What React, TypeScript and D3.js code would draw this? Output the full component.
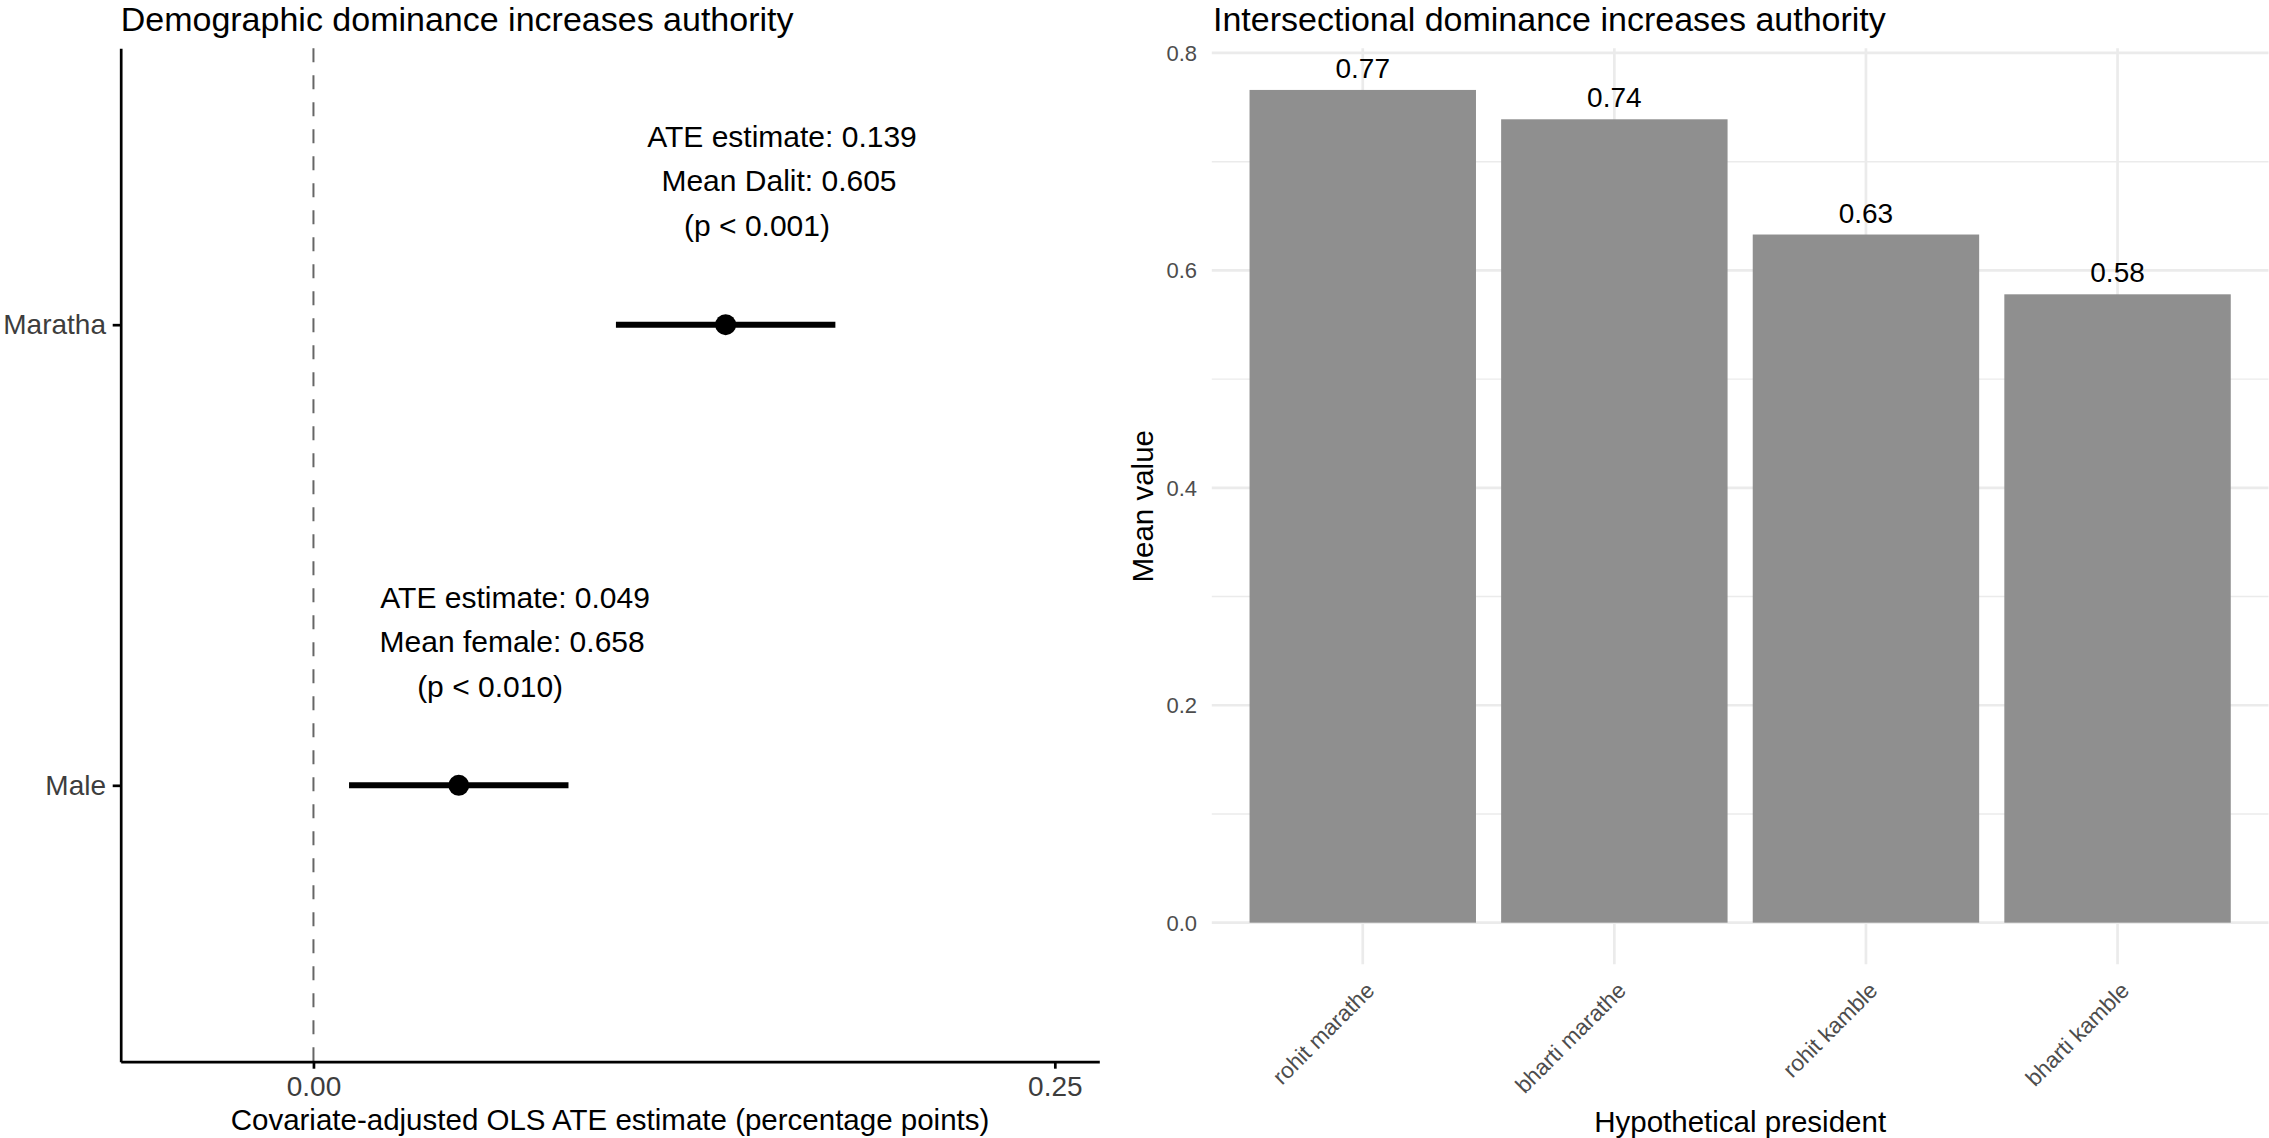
import { useEffect, useRef } from 'react'
import * as d3 from 'd3'

// Left panel: covariate-adjusted ATE estimates
const effectTerms = ['Maratha', 'Male']
const ateEstimates = [0.139, 0.049]
const ciLower = [0.102, 0.012]
const ciUpper = [0.176, 0.086]
const annotationLines = [
  ['ATE estimate: 0.139', 'Mean Dalit: 0.605', '(p < 0.001)'],
  ['ATE estimate: 0.049', 'Mean female: 0.658', '(p < 0.010)'],
]
const ateLimits = [-0.05, 0.25]
const ateTicks = [0, 0.25]

// Right panel: mean value by hypothetical president
const presidents = ['rohit marathe', 'bharti marathe', 'rohit kamble', 'bharti kamble']
const meanValues = [0.766, 0.739, 0.633, 0.578]
const meanTicks = [0, 0.2, 0.4, 0.6, 0.8]
const meanMinorTicks = [0.1, 0.3, 0.5, 0.7]

const W = 2269
const H = 1138
const FONT = '"Liberation Sans", Arial, Helvetica, sans-serif'

const App = () => {
  const svgRef = useRef<SVGSVGElement>(null)

  useEffect(() => {
    if (!svgRef.current) return
    const svg = d3.select(svgRef.current)
    svg.selectAll('*').remove()

    svg.append('rect').attr('width', W).attr('height', H).attr('fill', '#fff')

    // ---------- left panel ----------
    const L = { left: 120.7, right: 1099.3, top: 48.3, bottom: 1061.7 }
    const span = ateLimits[1] - ateLimits[0]
    const x = d3
      .scaleLinear()
      .domain([ateLimits[0] - span * 0.05, ateLimits[1] + span * 0.05])
      .range([L.left, L.right])
    const y = d3.scalePoint().domain(effectTerms).range([L.top, L.bottom]).padding(0.6)

    const left = svg.append('g').style('font-family', FONT)

    left
      .append('text')
      .attr('x', L.left)
      .attr('y', 30.5)
      .style('font-size', '34px')
      .style('fill', '#000')
      .text('Demographic dominance increases authority')

    // zero reference
    left
      .append('line')
      .attr('x1', x(0))
      .attr('x2', x(0))
      .attr('y1', L.top)
      .attr('y2', L.bottom)
      .attr('stroke', '#666')
      .attr('stroke-width', 2)
      .attr('stroke-dasharray', '14,13')

    // error bars + points
    effectTerms.forEach((term, i) => {
      const cy = y(term)!
      left
        .append('line')
        .attr('x1', x(ciLower[i]))
        .attr('x2', x(ciUpper[i]))
        .attr('y1', cy)
        .attr('y2', cy)
        .attr('stroke', '#000')
        .attr('stroke-width', 6)
      left.append('circle').attr('cx', x(ateEstimates[i])).attr('cy', cy).attr('r', 10.5).attr('fill', '#000')

      // annotation block above the estimate
      const ax = x(ateEstimates[i] + 0.019)
      const ay = cy - y.step() * 0.3
      const dxs = [0, -3, -25]
      annotationLines[i].forEach((line, j) => {
        left
          .append('text')
          .attr('x', ax + dxs[j])
          .attr('y', ay + (j - 1) * 44.5 + 5)
          .attr('text-anchor', 'middle')
          .style('font-size', '30px')
          .style('fill', '#000')
          .text(line)
      })
    })

    // axes
    const yAxis = left
      .append('g')
      .attr('transform', `translate(${L.left},0)`)
      .call(d3.axisLeft(y).tickSize(8).tickSizeOuter(0).tickPadding(6.7))
    yAxis.select('.domain').attr('stroke', '#000').attr('stroke-width', 2.7)
    yAxis.selectAll('.tick line').attr('stroke', '#000').attr('stroke-width', 2.7)
    yAxis
      .selectAll('.tick text')
      .style('font-size', '28px')
      .style('font-family', FONT)
      .style('fill', '#3d3d3d')

    const xAxis = left
      .append('g')
      .attr('transform', `translate(0,${L.bottom})`)
      .call(
        d3
          .axisBottom(x)
          .tickValues(ateTicks)
          .tickFormat((d) => d3.format('.2f')(d as number))
          .tickSize(7)
          .tickSizeOuter(0)
          .tickPadding(7.4)
      )
    xAxis.select('.domain').attr('stroke', '#000').attr('stroke-width', 2.7)
    xAxis.selectAll('.tick line').attr('stroke', '#000').attr('stroke-width', 2.7)
    xAxis
      .selectAll('.tick text')
      .style('font-size', '28px')
      .style('font-family', FONT)
      .style('fill', '#3d3d3d')

    left
      .append('text')
      .attr('x', (L.left + L.right) / 2)
      .attr('y', 1130)
      .attr('text-anchor', 'middle')
      .style('font-size', '29.5px')
      .style('fill', '#000')
      .text('Covariate-adjusted OLS ATE estimate (percentage points)')

    // ---------- right panel ----------
    const R = { left: 1211.8, right: 2268.5, top: 48.3, bottom: 964.3 }
    const maxVal = d3.max(meanValues)!
    const yr = d3
      .scaleLinear()
      .domain([-maxVal * 0.05, maxVal * 1.05])
      .range([R.bottom, R.top])
    const xr = d3
      .scaleBand()
      .domain(presidents)
      .range([R.left, R.right])
      .paddingInner(0.1)
      .paddingOuter(0.15)

    const right = svg.append('g').style('font-family', FONT)

    right
      .append('text')
      .attr('x', 1213)
      .attr('y', 30.5)
      .style('font-size', '34px')
      .style('fill', '#000')
      .text('Intersectional dominance increases authority')

    // grid
    right
      .selectAll('.minor')
      .data(meanMinorTicks)
      .enter()
      .append('line')
      .attr('x1', R.left)
      .attr('x2', R.right)
      .attr('y1', (d) => yr(d))
      .attr('y2', (d) => yr(d))
      .attr('stroke', '#ebebeb')
      .attr('stroke-width', 1.4)
    right
      .selectAll('.major')
      .data(meanTicks)
      .enter()
      .append('line')
      .attr('x1', R.left)
      .attr('x2', R.right)
      .attr('y1', (d) => yr(d))
      .attr('y2', (d) => yr(d))
      .attr('stroke', '#ebebeb')
      .attr('stroke-width', 2.7)
    right
      .selectAll('.vgrid')
      .data(presidents)
      .enter()
      .append('line')
      .attr('x1', (d) => xr(d)! + xr.bandwidth() / 2)
      .attr('x2', (d) => xr(d)! + xr.bandwidth() / 2)
      .attr('y1', R.top)
      .attr('y2', R.bottom)
      .attr('stroke', '#ebebeb')
      .attr('stroke-width', 2.7)

    // bars
    right
      .selectAll('.bar')
      .data(meanValues)
      .enter()
      .append('rect')
      .attr('x', (_, i) => xr(presidents[i])!)
      .attr('width', xr.bandwidth())
      .attr('y', (d) => yr(d))
      .attr('height', (d) => yr(0) - yr(d))
      .attr('fill', '#8f8f8f')

    right
      .selectAll('.bar-label')
      .data(meanValues)
      .enter()
      .append('text')
      .attr('x', (_, i) => xr(presidents[i])! + xr.bandwidth() / 2)
      .attr('y', (d) => yr(d) - 12)
      .attr('text-anchor', 'middle')
      .style('font-size', '28px')
      .style('fill', '#000')
      .text((d) => d3.format('.2f')(d))

    // y tick labels
    right
      .selectAll('.ytick')
      .data(meanTicks)
      .enter()
      .append('text')
      .attr('x', 1197)
      .attr('y', (d) => yr(d))
      .attr('dy', '0.36em')
      .attr('text-anchor', 'end')
      .style('font-size', '22px')
      .style('fill', '#4d4d4d')
      .text((d) => d3.format('.1f')(d))

    // x tick labels, rotated
    right
      .selectAll('.xtick')
      .data(presidents)
      .enter()
      .append('text')
      .attr(
        'transform',
        (d) => `translate(${xr(d)! + xr.bandwidth() / 2 + 13},${992}) rotate(-45)`
      )
      .attr('text-anchor', 'end')
      .style('font-size', '22.5px')
      .style('fill', '#4d4d4d')
      .text((d) => d)

    right
      .append('text')
      .attr('x', (R.left + R.right) / 2)
      .attr('y', 1131.5)
      .attr('text-anchor', 'middle')
      .style('font-size', '29.5px')
      .style('fill', '#000')
      .text('Hypothetical president')

    right
      .append('text')
      .attr('transform', `translate(1153,${(R.top + R.bottom) / 2}) rotate(-90)`)
      .attr('text-anchor', 'middle')
      .style('font-size', '29.5px')
      .style('fill', '#000')
      .text('Mean value')
  }, [])

  return (
    <svg
      ref={svgRef}
      width={W}
      height={H}
      style={{ position: 'absolute', left: 0, top: 0, display: 'block' }}
    />
  )
}

export default App
